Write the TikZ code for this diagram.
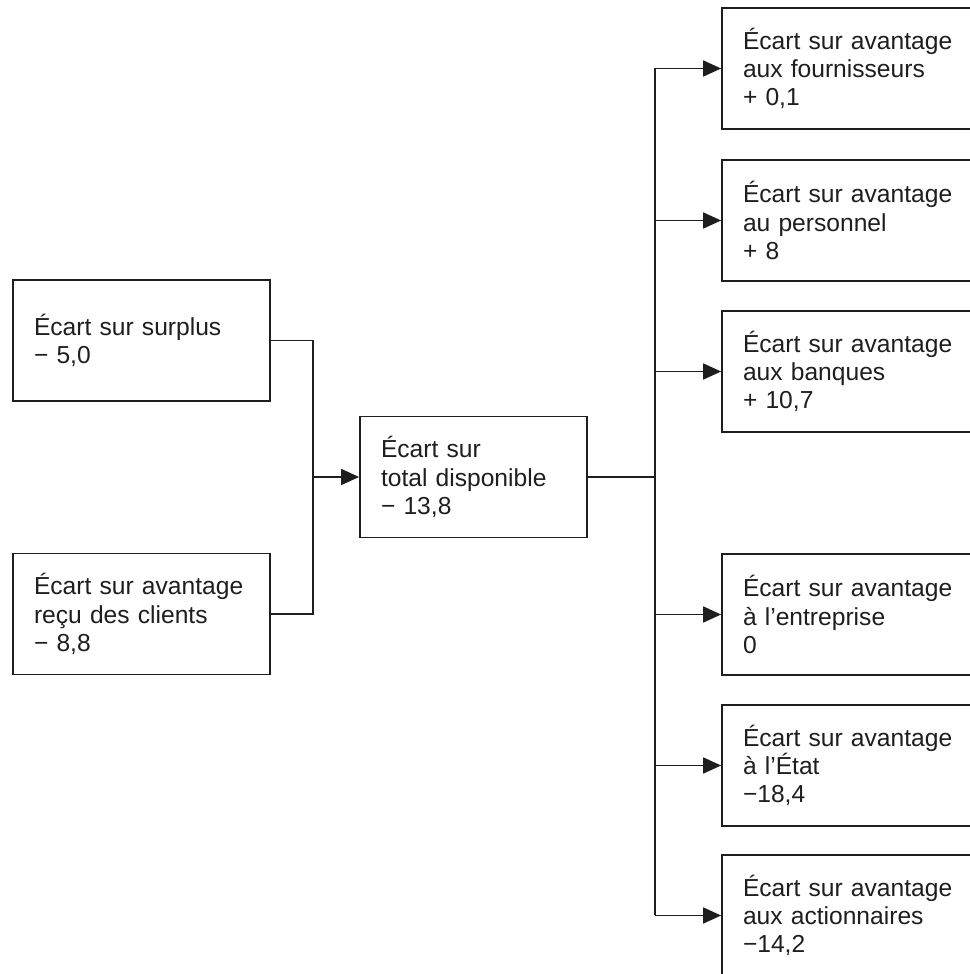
\documentclass[tikz,border=0pt]{standalone}
\usepackage{fontspec}
\setmainfont{Liberation Sans}
\usetikzlibrary{arrows.meta, positioning, calc}
\definecolor{ink}{HTML}{1E1E1E}
\hyphenpenalty=10000
\exhyphenpenalty=10000

\begin{document}
\begin{tikzpicture}[>={Triangle[length=3.6mm, width=3.2mm]}, line width=1pt, draw=ink,
  box/.style={draw=ink, line width=1pt, inner xsep=4.2mm, inner ysep=0pt,
      text width=4.3cm, minimum height=2.42cm, align=left, text=ink,
      font=\fontsize{14}{16}\selectfont}]

% Picture frame (right column runs off the edge)
\clip (0,0) rectangle (19.4,19.48);

%% LEFT: the two sources
\node[box] (surplus) at (2.83,12.67) {Écart sur surplus\\− 5,0};
\node[box] (clients) at (2.83,7.20) {Écart sur avantage\\reçu des clients\\− 8,8};

%% CENTRE: total
\node[box, text width=3.7cm] (total) at (9.47,9.94)
      {Écart sur\\total disponible\\− 13,8};

% Lines joining into the total
\coordinate (jl) at ($(total.west)+(-0.92,0)$);
\draw[ink] (surplus.east) -| (jl) |- (clients.east);
\draw[ink, ->] (jl) -- (total.west);

%% RIGHT: shares of the gap
\node[box] (fourn)  at (17.01,18.11) {Écart sur avantage\\aux fournisseurs\\ + 0,1};
\node[box] (perso)  at (17.01,15.07) {Écart sur avantage\\au personnel\\ + 8};
\node[box] (banq)   at (17.01,12.05) {Écart sur avantage\\aux banques\\ + 10,7};
\node[box] (entr)   at (17.01,7.19)  {Écart sur avantage\\à l’entreprise\\0};
\node[box] (etat)   at (17.01,4.17)  {Écart sur avantage\\à l’État\\ −18,4};
\node[box] (action) at (17.01,1.17)  {Écart sur avantage\\aux actionnaires\\ −14,2};

% Trunk and branches
\coordinate (tr) at ($(total.east)+(1.34,0)$);
\draw[ink] (total.east) -- (tr);
\draw[ink] (fourn.west -| tr) -- (action.west -| tr);
\foreach \n in {fourn,perso,banq,entr,etat,action}
  \draw[ink, ->] (\n.west -| tr) -- (\n.west);

\end{tikzpicture}
\end{document}
